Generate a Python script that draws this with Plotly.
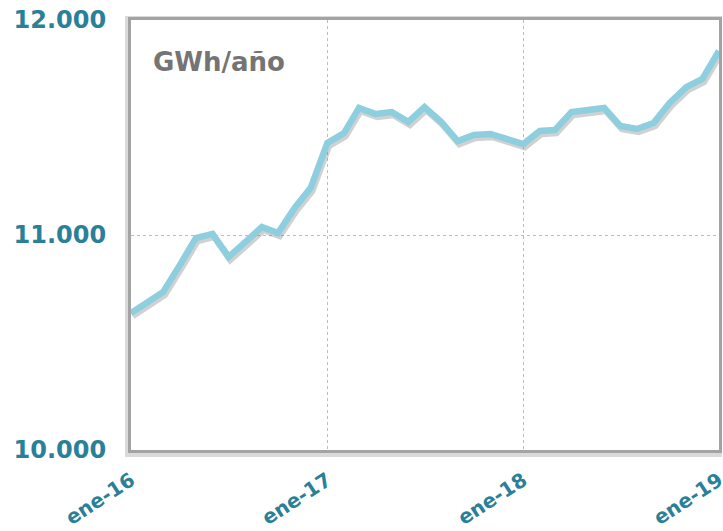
import pandas as pd
import plotly.graph_objects as go

# Monthly data, ene-16 .. ene-19 (GWh/año, rolling annual)
months = pd.date_range("2016-01-01", "2019-01-01", freq="MS")
values = [10637, 10688, 10735, 10860, 10986, 11005, 10898, 10967, 11037, 11009,
          11126, 11219, 11428, 11474, 11591, 11563, 11572, 11526, 11595, 11526,
          11437, 11465, 11470, 11447, 11423, 11484, 11488, 11572, 11581, 11591,
          11507, 11493, 11521, 11614, 11688, 11726, 11856]

x_tickvals = ["2016-01-01", "2017-01-01", "2018-01-01", "2019-01-01"]
x_ticktext = ["ene-16", "ene-17", "ene-18", "ene-19"]
y_tickvals = [10000, 11000, 12000]
y_ticktext = ["10.000", "11.000", "12.000"]

TEAL = "#2a8098"
LINE = "#8ecfdf"
FONT = "DejaVu Sans, Verdana, sans-serif"

W, H = 723, 531
L, T, R, B = 131, 20, 4, 81
PW, PH = W - L - R, H - T - B

fig = go.Figure()

# soft shadow of the line
fig.add_trace(go.Scatter(
    x=[d + pd.Timedelta(days=3) for d in months],
    y=[v - 14 for v in values],
    mode="lines",
    line=dict(color="rgba(90,90,90,0.28)", width=6.5),
    hoverinfo="skip", showlegend=False))

fig.add_trace(go.Scatter(
    x=months, y=values, mode="lines",
    line=dict(color=LINE, width=6.5),
    showlegend=False))

fig.update_layout(
    width=W, height=H,
    margin=dict(l=L, r=R, t=T, b=B, autoexpand=False),
    paper_bgcolor="white",
    plot_bgcolor="rgba(0,0,0,0)",
    font=dict(family=FONT),
    shapes=[
        # frame shadow
        dict(type="rect", xref="paper", yref="paper", layer="below",
             x0=-6/PW, x1=1 + 3/PW, y0=-7/PH, y1=1 + 4/PH,
             fillcolor="#dadada", line=dict(width=0)),
        dict(type="rect", xref="paper", yref="paper", layer="below",
             x0=0, x1=1, y0=0, y1=1,
             fillcolor="white", line=dict(width=0)),
    ],
    annotations=[dict(
        text="GWh/año", xref="paper", yref="paper",
        x=20/PW, y=1 - 42/PH, xanchor="left", yanchor="middle",
        showarrow=False,
        font=dict(size=26, color="#747474", family=FONT, weight="bold"))],
)

fig.update_xaxes(
    range=["2016-01-01", "2019-01-01"],
    tickvals=x_tickvals, ticktext=x_ticktext,
    tickangle=-33, ticks="", ticklabelstandoff=8,
    ticklabeloverflow="allow",
    tickfont=dict(size=20, color=TEAL, family=FONT, weight="bold"),
    showgrid=True, gridcolor="#bdbdbd", griddash="dot", gridwidth=1,
    showline=True, mirror=True, linecolor="#a3a3a3", linewidth=3,
    zeroline=False)

fig.update_yaxes(
    range=[10000, 12000],
    tickvals=y_tickvals, ticktext=y_ticktext,
    ticks="", ticklabelstandoff=17,
    ticklabeloverflow="allow",
    tickfont=dict(size=24, color=TEAL, family=FONT, weight="bold"),
    showgrid=True, gridcolor="#bdbdbd", griddash="dot", gridwidth=1,
    showline=True, mirror=True, linecolor="#a3a3a3", linewidth=3,
    zeroline=False)

fig.write_html(
    "out.html",
    config={"displayModeBar": False},
    post_script="document.body.style.margin='0';document.body.style.overflow='hidden';")
